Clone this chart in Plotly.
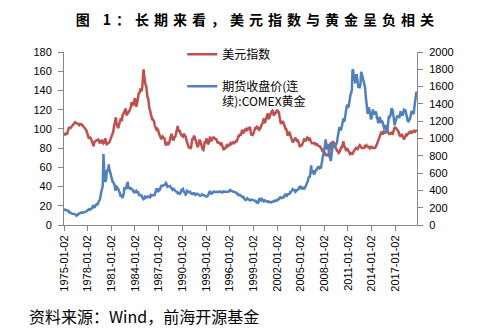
import pandas as pd
import plotly.graph_objects as go

# Monthly readings, Jan 1975 .. Oct 2019
dxy = [
    96, 94, 93.5, 95, 95, 95, 98, 101, 102, 101, 101, 102,        # 1975
    103, 104, 105, 106, 107, 107, 106.5, 106, 105, 105, 105, 104,  # 1976
    105, 105.5, 105, 104, 104, 103, 102, 102, 101, 100, 98.5, 96,  # 1977
    94, 92, 90, 91, 91, 90, 88, 86, 86, 82, 86, 87,               # 1978
    87, 88, 88, 88.5, 89, 88, 86, 86.5, 86, 88, 88, 86,           # 1979
    85, 86, 90, 90, 86, 84, 84.5, 85, 85, 86, 88, 90,             # 1980
    92, 95, 95, 97, 102, 106, 110, 112, 105, 104, 101, 102,       # 1981
    105, 108, 110, 110, 108, 114, 115, 116, 118, 120, 121, 115,   # 1982
    115, 117, 117, 118, 119, 121, 124, 128, 125, 124, 127, 129,   # 1983
    132, 127, 123, 126, 131, 131, 138, 137, 142, 140, 139, 143,   # 1984
    150, 162, 156, 146, 146, 145, 137, 133, 132, 124, 121, 119,   # 1985
    117, 113, 110, 110, 109, 108, 104, 101, 100, 99, 100, 99,     # 1986
    95, 94, 93, 90, 89, 91, 92, 91, 90, 90, 85, 83,               # 1987
    84, 85, 84, 84, 85, 88, 93, 94, 94, 91, 88, 89,               # 1988
    92, 91, 94, 94, 100, 103, 97, 99, 98, 95, 94, 93,             # 1989
    92, 92, 95, 94, 92, 92, 89, 86, 85, 82, 80, 81,               # 1990
    81, 79, 86, 89, 89, 93, 93, 91, 88, 87, 85, 82,               # 1991
    82, 86, 88, 88, 85, 83, 80, 78.5, 78, 83, 86, 86,             # 1992
    88, 90, 87, 84, 85, 87, 92, 89, 87, 89, 91, 91,               # 1993
    91, 90, 89, 89, 89, 87, 85, 86, 85, 84, 84, 86,               # 1994
    84, 83, 79, 78, 80, 80, 80, 82, 83, 82, 82, 83,               # 1995
    84, 85, 84, 85, 86, 86, 85, 85, 86, 87, 86, 87,               # 1996
    89, 92, 92, 94, 94, 93, 95, 99, 96, 96, 97, 99,               # 1997
    100, 99, 100, 99, 100, 101, 101, 102, 97, 93, 95, 94,         # 1998
    95, 98, 99, 101, 101, 103, 103, 100, 99, 99, 101, 101,        # 1999
    103, 106, 106, 108, 111, 106, 107, 109, 112, 116, 116, 111,   # 2000
    111, 113, 116, 117, 118, 119, 118, 114, 115, 117, 117, 117,   # 2001
    120, 119, 118, 117, 112, 108, 105, 107, 107, 108, 106, 103,   # 2002
    101, 100, 100, 98, 93, 94, 96, 97, 94, 92, 91, 88,            # 2003
    86, 87, 89, 91, 91, 89, 88, 89, 88, 86, 83, 81,               # 2004
    83, 83, 83, 85, 86, 89, 89, 88, 88, 90, 91, 90,               # 2005
    89, 90, 90, 88, 85, 85, 85, 85, 85, 86, 84, 83,               # 2006
    84, 84, 83, 82, 82, 82, 81, 81, 79, 77, 76, 76,               # 2007
    76, 75, 72, 73, 72.5, 73, 72.5, 75, 78, 83, 86, 82,           # 2008
    84, 87, 86, 85, 82, 80, 79, 78, 77, 76, 75, 76,               # 2009
    78, 80, 81, 81, 86, 87, 83, 82, 80, 77, 78, 80,               # 2010
    78, 77, 76, 74, 75, 74, 74, 74, 77, 77, 78, 79,               # 2011
    80, 79, 79, 79, 81, 82, 83, 82, 80, 80, 80, 80,               # 2012
    80, 81, 83, 82, 83, 82, 82, 81, 81, 80, 81, 80,               # 2013
    81, 81, 80, 80, 80, 80, 81, 82, 84, 86, 88, 89,               # 2014
    93, 94, 97, 97, 95, 95, 97, 96, 96, 96, 99, 98,               # 2015
    99, 97, 96, 94, 95, 95, 96, 95, 95, 97, 100, 102,             # 2016
    101, 101, 100, 99, 98, 97, 94, 93, 92, 94, 94, 93,            # 2017
    91, 89, 90, 91, 93, 95, 94, 95, 95, 96, 97, 97,               # 2018
    96, 96, 97, 97, 98, 97, 97, 98, 98.5, 98.5,                   # 2019
]

gold = [
    176, 180, 178, 170, 167, 164, 165, 163, 144, 143, 142, 139,   # 1975
    131, 131, 132, 128, 126, 125, 118, 108, 114, 117, 130, 134,   # 1976
    132, 136, 148, 149, 147, 141, 144, 145, 149, 158, 162, 161,   # 1977
    173, 178, 184, 175, 177, 184, 189, 206, 213, 228, 206, 208,   # 1978
    227, 245, 242, 239, 257, 279, 295, 301, 355, 392, 392, 456,   # 1979
    820, 640, 520, 500, 520, 610, 640, 620, 700, 650, 620, 590,   # 1980
    557, 500, 499, 495, 480, 460, 409, 410, 443, 437, 413, 410,   # 1981
    384, 374, 330, 350, 334, 312, 339, 364, 435, 422, 415, 444,   # 1982
    490, 500, 420, 432, 438, 413, 422, 416, 412, 394, 382, 388,   # 1983
    370, 386, 394, 381, 377, 378, 348, 348, 341, 340, 341, 320,   # 1984
    303, 299, 304, 325, 316, 317, 317, 330, 323, 326, 325, 321,   # 1985
    345, 339, 346, 340, 342, 343, 348, 376, 418, 424, 395, 391,   # 1986
    408, 401, 408, 438, 460, 450, 450, 460, 460, 465, 467, 486,   # 1987
    477, 442, 443, 451, 451, 451, 438, 431, 413, 407, 420, 418,   # 1988
    404, 388, 390, 384, 371, 367, 374, 365, 361, 367, 394, 409,   # 1989
    410, 417, 393, 374, 369, 352, 362, 395, 389, 380, 381, 378,   # 1990
    383, 364, 363, 358, 357, 367, 367, 356, 349, 359, 361, 361,   # 1991
    355, 354, 345, 338, 337, 341, 353, 343, 345, 344, 335, 334,   # 1992
    329, 329, 330, 342, 367, 372, 392, 378, 355, 365, 374, 383,   # 1993
    387, 382, 384, 378, 381, 385, 385, 380, 391, 389, 384, 379,   # 1994
    379, 376, 382, 391, 385, 387, 386, 383, 383, 383, 386, 387,   # 1995
    400, 405, 396, 393, 392, 385, 383, 387, 383, 381, 378, 369,   # 1996
    355, 346, 352, 344, 344, 341, 324, 324, 323, 325, 306, 289,   # 1997
    289, 297, 296, 308, 299, 292, 293, 284, 289, 296, 294, 291,   # 1998
    287, 287, 286, 282, 277, 261, 256, 256, 265, 311, 293, 283,   # 1999
    284, 300, 286, 280, 275, 285, 282, 274, 273, 270, 266, 272,   # 2000
    266, 262, 263, 261, 272, 270, 268, 273, 283, 283, 276, 276,   # 2001
    282, 296, 294, 302, 314, 321, 314, 310, 319, 317, 319, 333,   # 2002
    357, 359, 340, 328, 355, 356, 351, 360, 379, 379, 389, 407,   # 2003
    414, 405, 406, 404, 384, 392, 398, 400, 406, 420, 439, 442,   # 2004
    424, 423, 434, 429, 422, 430, 424, 437, 456, 470, 476, 510,   # 2005
    549, 555, 557, 610, 690, 596, 633, 632, 599, 585, 627, 629,   # 2006
    631, 665, 655, 679, 667, 655, 665, 665, 712, 754, 806, 803,   # 2007
    889, 922, 990, 909, 888, 890, 939, 839, 829, 760, 740, 816,   # 2008
    858, 943, 924, 890, 928, 945, 934, 949, 996, 1043, 1127, 1134,  # 2009
    1117, 1095, 1113, 1149, 1205, 1232, 1193, 1215, 1271, 1343, 1370, 1391,  # 2010
    1356, 1372, 1424, 1473, 1510, 1528, 1572, 1800, 1780, 1665, 1739, 1652,  # 2011
    1656, 1743, 1673, 1650, 1585, 1596, 1594, 1630, 1770, 1747, 1721, 1688,  # 2012
    1671, 1627, 1593, 1487, 1414, 1300, 1286, 1347, 1349, 1316, 1275, 1222,  # 2013
    1244, 1300, 1336, 1299, 1288, 1279, 1311, 1296, 1239, 1222, 1176, 1200,  # 2014
    1250, 1227, 1179, 1198, 1199, 1181, 1128, 1118, 1125, 1157, 1086, 1068,  # 2015
    1097, 1200, 1246, 1242, 1260, 1276, 1337, 1340, 1326, 1266, 1236, 1152,  # 2016
    1192, 1234, 1231, 1266, 1246, 1260, 1236, 1283, 1314, 1280, 1282, 1264,  # 2017
    1331, 1331, 1325, 1335, 1303, 1282, 1238, 1202, 1198, 1215, 1221, 1250,  # 2018
    1291, 1320, 1300, 1285, 1284, 1359, 1413, 1500, 1540, 1505,              # 2019
]

dates = pd.date_range("1975-01-01", periods=len(dxy), freq="MS") + pd.Timedelta(days=1)

tick_labels = ["1975-01-02", "1978-01-02", "1981-01-02", "1984-01-02", "1987-01-02",
               "1990-01-02", "1993-01-02", "1996-01-02", "1999-01-02", "2002-01-02",
               "2005-01-02", "2008-01-02", "2011-01-02", "2014-01-02", "2017-01-02"]

RED = "#C0504D"
BLUE = "#4F81BD"
AX = "#868686"
TICKFONT = dict(family="Liberation Sans, Arial, sans-serif", size=11, color="#000000")
CJK = "Noto Sans CJK SC"

fig = go.Figure()
fig.add_trace(go.Scatter(x=dates, y=dxy, name="美元指数", mode="lines",
                         line=dict(color=RED, width=2.5), legendgroup="a", yaxis="y"))
fig.add_trace(go.Scatter(x=dates, y=gold, name="期货收盘价(连<br>续):COMEX黄金", mode="lines",
                         line=dict(color=BLUE, width=2.5), legendgroup="b", yaxis="y2"))

fig.update_layout(
    width=493, height=335,
    margin=dict(l=64, r=76, t=52, b=110),
    paper_bgcolor="white", plot_bgcolor="white",
    title=dict(
        text='<span style="letter-spacing:5px">图 1：长期来看，美元指数与黄金呈负相关</span>',
        x=0.522, xanchor="center", y=0.94, yanchor="middle",
        font=dict(family=CJK, size=14, color="#000000", weight="bold"),
    ),
    xaxis=dict(
        type="date", range=["1975-01-02", "2019-10-02"],
        tickvals=tick_labels, ticktext=tick_labels, tickangle=-90,
        showline=True, linecolor=AX, linewidth=1, ticks="outside", ticklen=5,
        tickcolor=AX, tickfont=TICKFONT, showgrid=False, zeroline=False,
    ),
    yaxis=dict(
        range=[0, 180], dtick=20, showline=True, linecolor=AX, linewidth=1,
        ticks="outside", ticklen=5, tickcolor=AX, tickfont=TICKFONT,
        showgrid=False, zeroline=False, ticklabelstandoff=4,
    ),
    yaxis2=dict(
        range=[0, 2000], dtick=200, overlaying="y", side="right",
        showline=True, linecolor=AX, linewidth=1, ticks="outside", ticklen=5,
        tickcolor=AX, tickfont=TICKFONT, showgrid=False, zeroline=False,
        ticklabelstandoff=4,
    ),
    legend=dict(
        x=0.335, xanchor="left", y=1.07, yanchor="top",
        bgcolor="rgba(0,0,0,0)", font=dict(family=CJK, size=12, color="#000000"),
        tracegroupgap=13, valign="top",
    ),
    showlegend=True,
    annotations=[dict(
        text="资料来源：Wind，前海开源基金", xref="paper", yref="paper",
        x=-0.105, xanchor="left", y=-0.525, yanchor="middle", showarrow=False,
        font=dict(family=CJK, size=16, color="#000000"),
    )],
)

fig.write_html("out.html")
